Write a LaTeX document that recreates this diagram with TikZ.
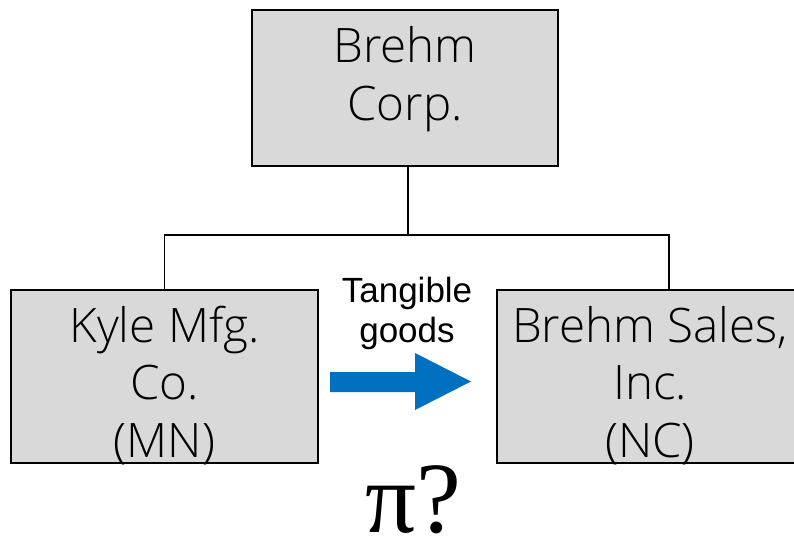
\documentclass[tikz,border=0pt]{standalone}
\usepackage{fontspec}
\setmainfont{Open Sans Light}
\newfontfamily\arialfont{Liberation Sans}
\newfontfamily\timesfont{Liberation Serif}
\definecolor{boxgray}{HTML}{D9D9D9}
\definecolor{arrowblue}{HTML}{0070C0}
\begin{document}
\begin{tikzpicture}[x=1pt,y=-1pt,
  box/.style={draw=black,line width=1.5pt,fill=boxgray,inner sep=0pt},
  boxtext/.style={anchor=base,align=center,inner sep=0pt,font=\fontsize{47.5}{57.5}\selectfont},
  link/.style={draw=black,line width=1.3pt}]
\useasboundingbox (0,0) rectangle (794,536);
% boxes
\node[box,minimum width=306pt,minimum height=156pt] (top) at (405,88) {};
\node[box,minimum width=307pt,minimum height=173pt] (lb) at (164.5,376.5) {};
\node[box,minimum width=306pt,minimum height=173pt] (rb) at (650,376.5) {};
% texts (base anchor = last line)
\node[boxtext] (ttop) at (405,120) {Brehm\\Corp.};
\node[boxtext] (tlb) at (164.5,457) {Kyle Mfg.\\Co.\\(MN)};
\node[boxtext] (trb) at (650,457) {Brehm Sales,\\Inc.\\(NC)};
% connectors
\coordinate (j) at (408,235);
\draw[link] (top.south -| j) -- (j);
\draw[link] (lb.north) |- (j) -| ([xshift=19pt]rb.north);
% arrow label
\node[anchor=base,align=center,inner sep=0pt,font=\arialfont\fontsize{35}{40}\selectfont] (lab) at (407,342) {Tangible\\goods};
% arrow
\fill[arrowblue] (330,372) -- (415,372) -- (415,353) -- (471,381.5) -- (415,410) -- (415,392) -- (330,392) -- cycle;
% pi?
\node[anchor=base,inner sep=0pt,font=\timesfont\fontsize{101}{101}\selectfont] (pi) at (413,532) {π?};
\end{tikzpicture}
\end{document}
